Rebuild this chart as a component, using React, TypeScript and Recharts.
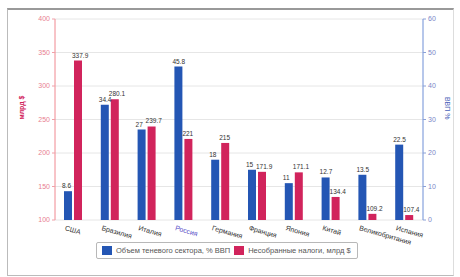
import React from "react";
import {
  BarChart,
  Bar,
  XAxis,
  YAxis,
  CartesianGrid,
  Legend,
  LabelList,
} from "recharts";

const countries = [
  "США",
  "Бразилия",
  "Италия",
  "Россия",
  "Германия",
  "Франция",
  "Япония",
  "Китай",
  "Великобритания",
  "Испания",
];
const shadowShare = [8.6, 34.4, 27, 45.8, 18, 15, 11, 12.7, 13.5, 22.5];
const lostTaxes = [337.9, 280.1, 239.7, 221, 215, 171.9, 171.1, 134.4, 109.2, 107.4];
const leftTicks = [100, 150, 200, 250, 300, 350, 400];
const rightTicks = [0, 10, 20, 30, 40, 50, 60];

const data = countries.map((c, i) => ({
  country: c,
  share: shadowShare[i],
  taxes: lostTaxes[i],
}));

const BLUE = "#2456b4";
const RED = "#d1245c";
const FONT = "'Liberation Sans', Arial, sans-serif";

function CountryTick(props: any) {
  const { x, y, payload } = props;
  const isRu = payload.value === "Россия";
  const tx = x - 9;
  const ty = y + 2;
  return (
    <text
      x={tx}
      y={ty}
      transform={`rotate(16 ${tx} ${ty})`}
      textAnchor="start"
      fontSize={7}
      fontFamily={FONT}
      fill={isRu ? "#5a4fc8" : "#333"}
    >
      {payload.value}
    </text>
  );
}

// value labels sit left-aligned a little before the bar, like the original
function ValueLabel(props: any) {
  const { x, y, value } = props;
  return (
    <text x={x - 2} y={y - 3} textAnchor="start" fontSize={6.5} fontFamily={FONT} fill="#333">
      {value}
    </text>
  );
}

function LegendBox() {
  const item = (color: string, text: string) => (
    <span style={{ display: "inline-flex", alignItems: "center", marginRight: 4 }}>
      <span style={{ width: 10, height: 9, background: color, display: "inline-block", marginRight: 4 }} />
      <span>{text}</span>
    </span>
  );
  return (
    <div
      style={{
        display: "inline-flex",
        alignItems: "center",
        whiteSpace: "nowrap",
        border: "1px solid #b8b8b8",
        borderRadius: 2,
        padding: "3px 2px 3px 5px",
        fontSize: 7.5,
        color: "#555",
        fontFamily: FONT,
        background: "#fff",
      }}
    >
      {item(BLUE, "Объем теневого сектора, % ВВП")}
      {item(RED, "Несобранные налоги, млрд $")}
    </div>
  );
}

export default function App() {
  return (
    <div style={{ position: "absolute", left: 0, top: 0, width: 460, height: 277, background: "#fff" }}>
      <div
        style={{
          position: "absolute",
          left: 7,
          top: 8,
          width: 445,
          height: 265,
          borderTop: "2px solid #999",
          borderLeft: "1px solid #bbb",
          borderRight: "1px solid #ddd",
          borderBottom: "1px solid #bbb",
        }}
      />
      <div style={{ position: "absolute", left: 0, top: 0 }}>
        <BarChart
          width={460}
          height={277}
          data={data}
          margin={{ top: 19, right: 7, bottom: 0, left: 10 }}
          barGap={2}
          barCategoryGap={6}
        >
          <CartesianGrid vertical={false} stroke="#e6e6e6" yAxisId="left" />
          <XAxis
            dataKey="country"
            interval={0}
            height={28}
            tick={<CountryTick />}
            tickLine={false}
            axisLine={false}
          />
          <YAxis
            yAxisId="left"
            orientation="left"
            domain={[100, 400]}
            ticks={leftTicks}
            width={45}
            tick={{ fontSize: 7, fill: "#e8808f", fontFamily: FONT }}
            tickLine={{ stroke: "#f0a0a8" }}
            tickSize={3}
            axisLine={{ stroke: "#f08890" }}
            label={{
              value: "млрд $",
              angle: -90,
              position: "insideLeft",
              offset: 12,
              fill: RED,
              fontSize: 7,
              fontFamily: FONT,
              fontWeight: "bold",
            }}
          />
          <YAxis
            yAxisId="right"
            orientation="right"
            domain={[0, 60]}
            ticks={rightTicks}
            width={30}
            tick={{ fontSize: 7, fill: "#7a86c8", fontFamily: FONT }}
            tickLine={{ stroke: "#8aa0d8" }}
            tickSize={3}
            axisLine={{ stroke: "#6f8fd6" }}
            label={{
              value: "ВВП %",
              angle: 90,
              position: "insideRight",
              offset: 6,
              fill: "#4a5fb8",
              fontSize: 7,
              fontFamily: FONT,
            }}
          />
          <Legend
            verticalAlign="bottom"
            height={29}
            wrapperStyle={{ left: 96, top: 241, width: 300, textAlign: "left" }}
            content={() => <LegendBox />}
          />
          <Bar yAxisId="right" dataKey="share" fill={BLUE} barSize={8} isAnimationActive={false}>
            <LabelList dataKey="share" content={<ValueLabel />} />
          </Bar>
          <Bar yAxisId="left" dataKey="taxes" fill={RED} barSize={8} isAnimationActive={false}>
            <LabelList dataKey="taxes" content={<ValueLabel />} />
          </Bar>
        </BarChart>
      </div>
    </div>
  );
}
